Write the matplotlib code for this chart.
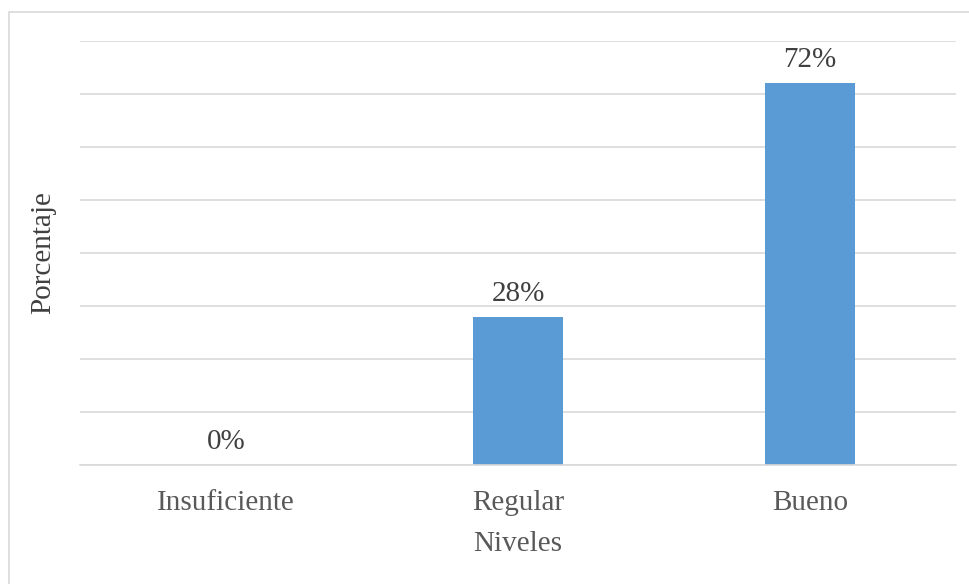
import matplotlib.pyplot as plt
import matplotlib.patches as patches
from matplotlib.ticker import MultipleLocator

# survey results by level
niveles = ["Insuficiente", "Regular", "Bueno"]
porcentajes = [0, 28, 72]

bar_color = "#5B9BD5"
grid_color = "#D9D9D9"
text_color = "#595959"

plt.rcParams["font.family"] = ["Liberation Serif", "DejaVu Serif"]

fig = plt.figure(figsize=(9.7, 5.84), dpi=100)
ax = fig.add_axes([80 / 970, 1 - 465 / 584, (956 - 80) / 970, (465 - 41) / 584])

# chart area frame, clipped at right and bottom
frame = patches.Rectangle((9 / 970, -0.05), 1.0, 1 - 11.5 / 584 + 0.05,
                          transform=fig.transFigure, fill=False,
                          edgecolor=grid_color, linewidth=1.2, zorder=0)
fig.add_artist(frame)

x = range(len(niveles))
bars = ax.bar(x, porcentajes, width=0.31, color=bar_color, zorder=2)

for xi, val in zip(x, porcentajes):
    ax.text(xi, val + 1.9, f"{val}%", ha="center", va="bottom",
            fontsize=21, color="#404040")

ax.set_xlim(-0.5, 2.5)
ax.set_ylim(0, 80)
ax.yaxis.set_major_locator(MultipleLocator(10))
ax.grid(axis="y", color=grid_color, linewidth=1.2, zorder=0)
ax.set_yticklabels([])
ax.tick_params(axis="y", length=0)
ax.tick_params(axis="x", length=0, pad=18, labelsize=21, labelcolor=text_color)
ax.set_xticks(list(x))
ax.set_xticklabels(niveles)

for side in ["top", "right", "left"]:
    ax.spines[side].set_visible(False)
ax.spines["bottom"].set_color(grid_color)
ax.spines["bottom"].set_linewidth(1.2)

ax.set_xlabel("Niveles", fontsize=21, color=text_color, labelpad=11)
ax.set_ylabel("Porcentaje", fontsize=21, color="#404040", labelpad=14)

fig.savefig("out.png", dpi=100)
